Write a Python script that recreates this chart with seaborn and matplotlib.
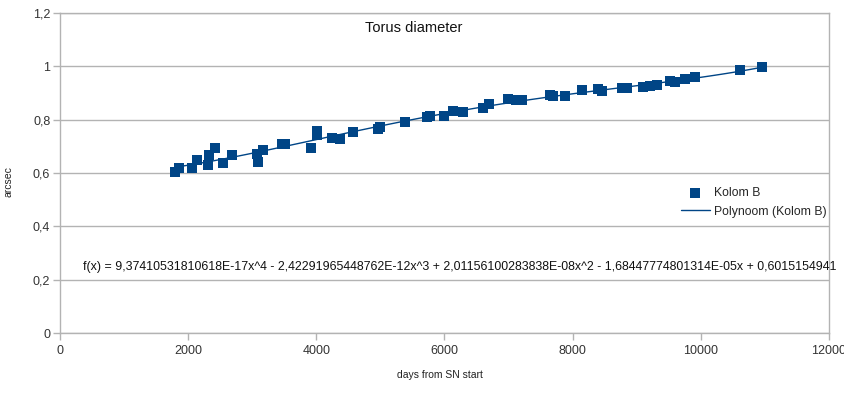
import numpy as np
import pandas as pd
import matplotlib
matplotlib.use("Agg")
import matplotlib.pyplot as plt
from matplotlib.ticker import FixedLocator
import seaborn as sns

# --- Data ---
days = [1794, 1850, 2060, 2137, 2309, 2325, 2418, 2543, 2683, 3073, 3089, 3167,
        3463, 3510, 3916, 4009, 4015, 4243, 4368, 4571, 4961, 4992, 5382, 5725,
        5772, 5990, 6131, 6287, 6599, 6693, 6989, 7120, 7207, 7644, 7700, 7878,
        8143, 8393, 8456, 8768, 8846, 9095, 9204, 9313, 9516, 9594, 9750, 9906,
        10608, 10951]
diameter = [0.602, 0.620, 0.620, 0.648, 0.630, 0.667, 0.692, 0.638, 0.667, 0.670, 0.641, 0.686,
            0.708, 0.708, 0.694, 0.757, 0.744, 0.731, 0.728, 0.754, 0.765, 0.773, 0.791, 0.810,
            0.814, 0.814, 0.832, 0.829, 0.844, 0.859, 0.877, 0.872, 0.874, 0.892, 0.890, 0.889,
            0.911, 0.915, 0.907, 0.919, 0.918, 0.922, 0.926, 0.930, 0.945, 0.941, 0.952, 0.960,
            0.986, 0.997]

x_ticks = [0, 2000, 4000, 6000, 8000, 10000, 12000]
y_ticks = [0, 0.2, 0.4, 0.6, 0.8, 1.0, 1.2]
y_tick_labels = ["0", "0,2", "0,4", "0,6", "0,8", "1", "1,2"]

title = "Torus diameter"
x_label = "days from SN start"
y_label = "arcsec"
series_name = "Kolom B"
trend_name = "Polynoom (Kolom B)"
equation = ("f(x) = 9,37410531810618E-17x^4 - 2,42291965448762E-12x^3 + "
            "2,01156100283838E-08x^2 - 1,68447774801314E-05x + 0,6015154941")

BLUE = "#004586"
GREY = "#b3b3b3"

df = pd.DataFrame({"days": days, "diameter": diameter})

sns.set_theme(style="white")
plt.rcParams["font.family"] = ["Liberation Sans", "DejaVu Sans"]

fig = plt.figure(figsize=(8.45, 3.94), dpi=100)
ax = fig.add_axes([60 / 845, 1 - 333 / 394, 769 / 845, 320 / 394])

# 4th order polynomial trend line, fitted by seaborn over the data range
sns.regplot(data=df, x="days", y="diameter", order=4, ci=None, scatter=False,
            line_kws={"color": BLUE, "lw": 1.0}, ax=ax, label=trend_name)
sns.scatterplot(data=df, x="days", y="diameter", marker="s", s=62, color=BLUE,
                edgecolor=BLUE, linewidth=0, ax=ax, label=series_name, zorder=3)

ax.set_xlim(0, 12000)
ax.set_ylim(0, 1.2)
ax.xaxis.set_major_locator(FixedLocator(x_ticks))
ax.set_xticklabels([str(t) for t in x_ticks])
ax.yaxis.set_major_locator(FixedLocator(y_ticks))
ax.set_yticklabels(y_tick_labels)

ax.grid(axis="y", color=GREY, lw=1.0)
ax.grid(axis="x", visible=False)
ax.set_axisbelow(True)
for side in ["left", "bottom", "right", "top"]:
    ax.spines[side].set_color(GREY)
    ax.spines[side].set_linewidth(1.0)
ax.tick_params(axis="both", which="major", length=5, width=1.0, color=GREY,
               labelsize=9, labelcolor="#333333", pad=2, direction="out")
ax.tick_params(axis="x", bottom=True, pad=4)
ax.tick_params(axis="y", left=True)

ax.set_xlabel(x_label, fontsize=7.5, color="#222222")
ax.set_ylabel(y_label, fontsize=7.5, color="#222222")
ax.xaxis.set_label_coords((440 - 60) / 769, -(370 - 333) / 320)
ax.yaxis.set_label_coords((14 - 60) / 769, (333 - 182) / 320)

ax.text((414 - 60) / 769, 1 - (28 - 13) / 320, title,
        transform=ax.transAxes, ha="center", va="center", fontsize=10.5, color="#111111")

ax.text((83 - 60) / 769, (333 - 267) / 320, equation, transform=ax.transAxes,
        ha="left", va="center", fontsize=8.9, color="#111111")

handles, labels = ax.get_legend_handles_labels()
order = [labels.index(series_name), labels.index(trend_name)]
ax.legend([handles[i] for i in order], [labels[i] for i in order],
          loc="upper right", bbox_to_anchor=(1.0 + 9 / 769, (333 - 176) / 320), frameon=False,
          fontsize=8.8, handlelength=2.4, handletextpad=0.35, labelspacing=0.55,
          markerscale=0.85)

fig.savefig("out.png", dpi=100)
